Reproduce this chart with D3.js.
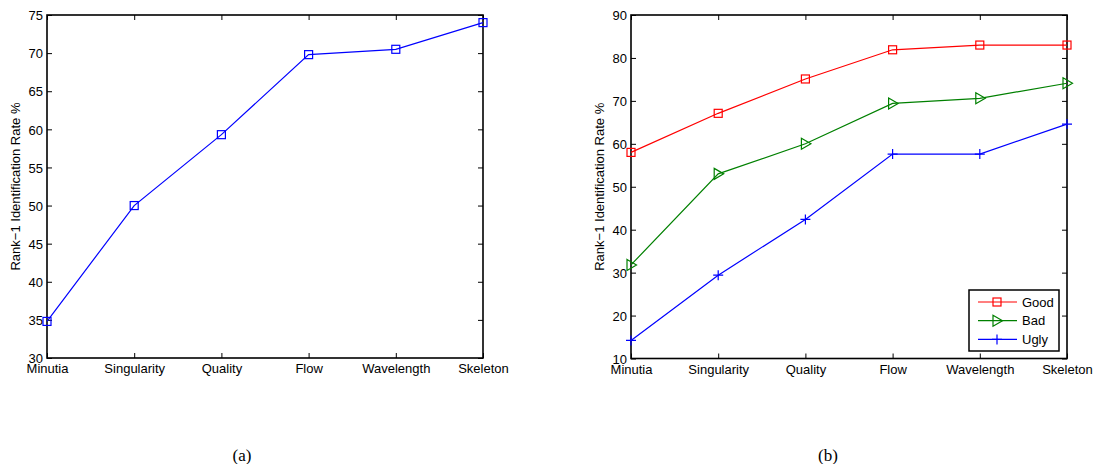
<!DOCTYPE html>
<html><head><meta charset="utf-8">
<script src="https://cdn.jsdelivr.net/npm/d3@7"></script>
<style>body{margin:0;background:#fff}svg{display:block}</style>
</head><body><svg id="c" width="1094" height="464"></svg>
<script>
const categories = ["Minutia","Singularity","Quality","Flow","Wavelength","Skeleton"];
const overallRate = [34.8, 50.0, 59.3, 69.8, 70.5, 74.0];
const goodRate = [58.0, 67.1, 75.1, 81.9, 83.0, 83.0];
const badRate  = [31.8, 53.0, 60.0, 69.4, 70.6, 74.1];
const uglyRate = [14.2, 29.4, 42.4, 57.6, 57.6, 64.6];
const yTicksA = [30,35,40,45,50,55,60,65,70,75];
const yTicksB = [10,20,30,40,50,60,70,80,90];
const yLabel = "Rank\u22121 Identification Rate %";
const captions = ["(a)","(b)"];

const svg = d3.select("#c");
const font = "Liberation Sans, Arial, Helvetica, sans-serif";

function marker(g, type, x, y, color){
  if(type==="square"){
    g.append("rect").attr("x",x-4).attr("y",y-4).attr("width",8).attr("height",8)
      .attr("fill","none").attr("stroke",color).attr("stroke-width",1.2);
  } else if(type==="tri"){
    g.append("path").attr("d",`M${x-4},${y-5.5}L${x+5.5},${y}L${x-4},${y+5.5}Z`)
      .attr("fill","none").attr("stroke",color).attr("stroke-width",1.2);
  } else {
    g.append("path").attr("d",`M${x-5},${y}H${x+5}M${x},${y-5}V${y+5}`)
      .attr("stroke",color).attr("stroke-width",1.2);
  }
}

function panel(x0,x1,y0,y1,domain,ticks,series,caption,capX,legend){
  const x = d3.scalePoint().domain(categories).range([x0,x1]);
  const y = d3.scaleLinear().domain(domain).range([y1,y0]);
  const g = svg.append("g");
  const tl = 5;
  const axL = g.append("g").attr("transform",`translate(${x0},0)`)
    .call(d3.axisLeft(y).tickValues(ticks).tickSize(-tl).tickPadding(4));
  const axR = g.append("g").attr("transform",`translate(${x1},0)`)
    .call(d3.axisRight(y).tickValues(ticks).tickSize(-tl).tickFormat(""));
  const axB = g.append("g").attr("transform",`translate(0,${y1})`)
    .call(d3.axisBottom(x).tickSize(-tl).tickPadding(3));
  const axT = g.append("g").attr("transform",`translate(0,${y0})`)
    .call(d3.axisTop(x).tickSize(-tl).tickFormat(""));
  [axL,axR,axB,axT].forEach(a=>{
    a.select(".domain").remove();
    a.selectAll("line").attr("stroke","#000").attr("stroke-width",1);
    a.selectAll("text").attr("font-family",font).attr("font-size",13).attr("fill","#000");
  });
  axB.selectAll("text").attr("dy","0.95em");
  axL.selectAll("text").attr("dy","0.36em");
  g.append("rect").attr("x",x0).attr("y",y0).attr("width",x1-x0).attr("height",y1-y0)
    .attr("fill","none").attr("stroke","#000").attr("stroke-width",1.6);
  const line = d3.line().x((d,i)=>x(categories[i])).y(d=>y(d));
  series.forEach(s=>{
    g.append("path").attr("d",line(s.values)).attr("fill","none")
      .attr("stroke",s.color).attr("stroke-width",1.2);
    s.values.forEach((v,i)=>marker(g,s.marker,x(categories[i]),y(v),s.color));
  });
  g.append("text").attr("transform",`translate(${x0-27},${(y0+y1)/2}) rotate(-90)`)
    .attr("text-anchor","middle").attr("font-family",font).attr("font-size",13).text(yLabel);
  g.append("text").attr("x",capX).attr("y",461).attr("text-anchor","middle")
    .attr("font-family","Liberation Serif, Times New Roman, serif").attr("font-size",17).text(caption);
  if(legend){
    const lx=969, ly=290, lw=90, lh=61;
    g.append("rect").attr("x",lx).attr("y",ly).attr("width",lw).attr("height",lh)
      .attr("fill","#fff").attr("stroke","#000").attr("stroke-width",1.5);
    series.forEach((s,i)=>{
      const yy = ly+12+i*18.7;
      g.append("line").attr("x1",lx+9).attr("x2",lx+48).attr("y1",yy).attr("y2",yy)
        .attr("stroke",s.color).attr("stroke-width",1.2);
      marker(g,s.marker,lx+28,yy,s.color);
      g.append("text").attr("x",lx+53).attr("y",yy).attr("dy","0.36em")
        .attr("font-family",font).attr("font-size",13).text(s.name);
    });
  }
}

panel(47,483,15,358,[30,75],yTicksA,
  [{name:"All",values:overallRate,color:"#0000ff",marker:"square"}],captions[0],242,false);
panel(631,1067,15,358.5,[10,90],yTicksB,
  [{name:"Good",values:goodRate,color:"#ff0000",marker:"square"},
   {name:"Bad",values:badRate,color:"#008000",marker:"tri"},
   {name:"Ugly",values:uglyRate,color:"#0000ff",marker:"plus"}],captions[1],828,true);
</script></body></html>
